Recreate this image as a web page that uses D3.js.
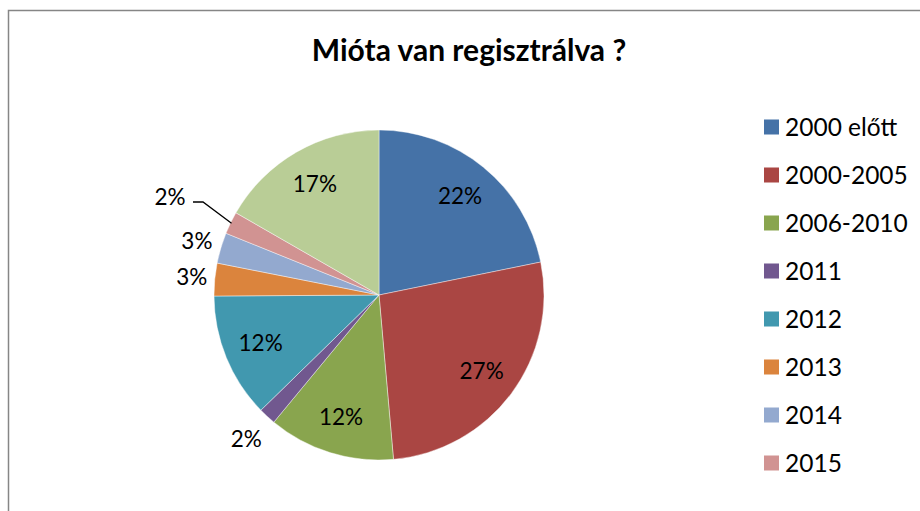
<!DOCTYPE html>
<html lang="hu">
<head>
<meta charset="UTF-8">
<title>Mióta van regisztrálva ?</title>
<script src="https://d3js.org/d3.v7.min.js"></script>
<style>
  body { margin: 0; background: #fff; }
  svg { display: block; font-family: Lato, "Open Sans", sans-serif; }
  .title { font-size: 30px; font-weight: bold; fill: #000; }
  .lbl { font-size: 22.5px; fill: #000; }
  .legend text { font-size: 24.5px; fill: #000; }
</style>
</head>
<body>
<script>
  const width = 920;
  const height = 511;

  // data (share of respondents, %)
  const categories = ["2000 előtt", "2000-2005", "2006-2010", "2011", "2012", "2013", "2014", "2015", "2016"];
  const values = [21.8, 26.8, 12.4, 1.7, 12.2, 3.2, 3.0, 2.2, 16.7];
  const colors = ["#4572A7", "#AA4643", "#89A54E", "#71588F", "#4198AF", "#DB843D", "#93A9CF", "#D19392", "#B9CD96"];
  const legendShown = 8; // the last legend entry is clipped in the original

  const cx = 379, cy = 295, radius = 165;
  const insideR = 128;
  // small slices get their label outside the pie
  const outsideR = { 3: 196, 5: 188, 6: 190 };
  const leaderIdx = 7;

  const svg = d3.select("body").append("svg")
    .attr("width", width)
    .attr("height", height);

  // chart frame (runs off the right/bottom of the picture)
  svg.append("rect")
    .attr("x", 8.5).attr("y", 10.5)
    .attr("width", 1000).attr("height", 1000)
    .attr("fill", "none")
    .attr("stroke", "#868686")
    .attr("stroke-width", 1.5);

  svg.append("text")
    .attr("class", "title")
    .attr("x", 469).attr("y", 61)
    .attr("text-anchor", "middle")
    .text("Mióta van regisztrálva ?");

  const total = d3.sum(values);
  const pct = d3.format(".0%");

  const pie = d3.pie().sort(null).value(d => d);
  const arcs = pie(values);
  const arc = d3.arc().innerRadius(0).outerRadius(radius);

  const g = svg.append("g").attr("transform", `translate(${cx},${cy})`);

  g.selectAll("path")
    .data(arcs)
    .join("path")
    .attr("d", arc)
    .attr("fill", (d, i) => colors[i])
    .attr("stroke", "#fff")
    .attr("stroke-opacity", 0.6)
    .attr("stroke-width", 0.7);

  const pointAt = (a, r) => [Math.sin(a) * r, -Math.cos(a) * r];

  g.selectAll("text.lbl")
    .data(arcs)
    .join("text")
    .attr("class", "lbl")
    .attr("text-anchor", "middle")
    .attr("dy", "0.35em")
    .attr("transform", (d, i) => {
      const mid = (d.startAngle + d.endAngle) / 2;
      if (i === leaderIdx) return `translate(-209,-98)`;
      const r = outsideR[i] || insideR;
      const p = pointAt(mid, r);
      return `translate(${p[0]},${p[1]})`;
    })
    .text(d => pct(d.value / total));

  // leader line for the 2015 label
  const lead = arcs[leaderIdx];
  const leadMid = (lead.startAngle + lead.endAngle) / 2;
  const tip = pointAt(leadMid, radius - 1);
  g.append("polyline")
    .attr("points", [[-186, -93], [-176, -93], tip].map(p => p.join(",")).join(" "))
    .attr("fill", "none")
    .attr("stroke", "#000")
    .attr("stroke-width", 1.3);

  const legend = svg.append("g").attr("class", "legend")
    .attr("transform", "translate(764,127)");

  const rows = legend.selectAll("g")
    .data(categories.slice(0, legendShown))
    .join("g")
    .attr("transform", (d, i) => `translate(0,${i * 48})`);

  rows.append("rect")
    .attr("x", 0).attr("y", -7.5)
    .attr("width", 15).attr("height", 15)
    .attr("fill", (d, i) => colors[i]);

  rows.append("text")
    .attr("x", 21)
    .attr("dy", "0.35em")
    .text(d => d);
</script>
</body>
</html>
